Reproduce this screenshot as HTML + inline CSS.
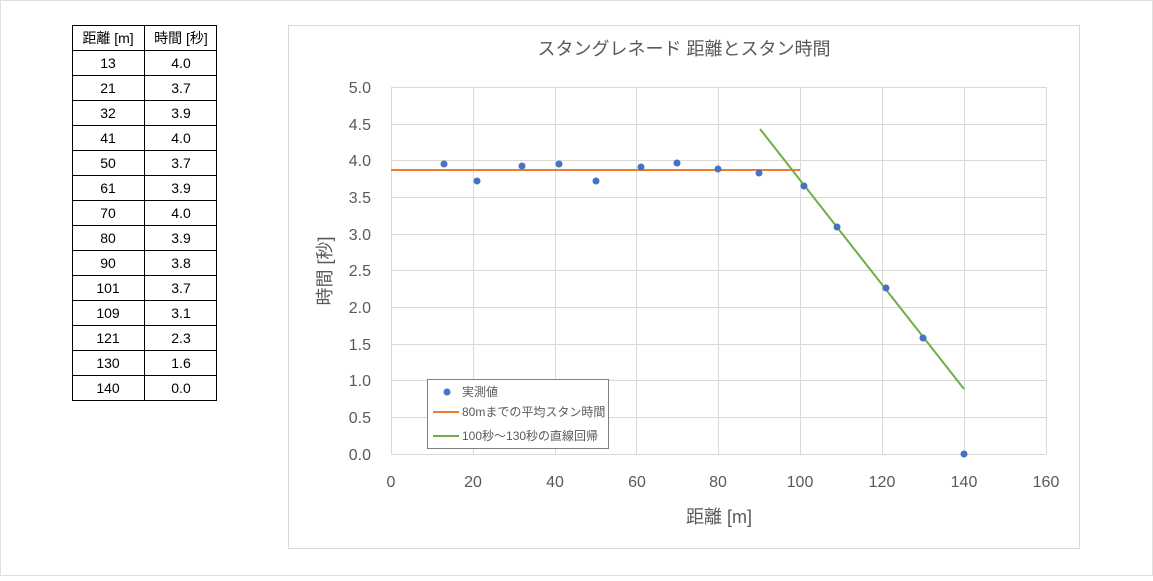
<!DOCTYPE html>
<html><head><meta charset="utf-8"><style>
body{margin:0;background:#fff;width:1153px;height:576px;overflow:hidden;font-family:"Liberation Sans","Noto Sans CJK JP",sans-serif}
</style></head><body>
<svg width="1153" height="576" xmlns="http://www.w3.org/2000/svg" font-family="Liberation Sans, Noto Sans CJK JP, sans-serif">
<rect x="0.5" y="0.5" width="1152" height="575" fill="#fff" stroke="#e0e0e0"/>
<!-- table -->
<g stroke="#000" stroke-width="1" fill="none">
<rect x="72.5" y="25.5" width="144" height="375"/>
<line x1="144.5" y1="25" x2="144.5" y2="400"/>
<line x1="72" y1="50.5" x2="217" y2="50.5"/><line x1="72" y1="75.5" x2="217" y2="75.5"/><line x1="72" y1="100.5" x2="217" y2="100.5"/><line x1="72" y1="125.5" x2="217" y2="125.5"/><line x1="72" y1="150.5" x2="217" y2="150.5"/><line x1="72" y1="175.5" x2="217" y2="175.5"/><line x1="72" y1="200.5" x2="217" y2="200.5"/><line x1="72" y1="225.5" x2="217" y2="225.5"/><line x1="72" y1="250.5" x2="217" y2="250.5"/><line x1="72" y1="275.5" x2="217" y2="275.5"/><line x1="72" y1="300.5" x2="217" y2="300.5"/><line x1="72" y1="325.5" x2="217" y2="325.5"/><line x1="72" y1="350.5" x2="217" y2="350.5"/><line x1="72" y1="375.5" x2="217" y2="375.5"/>
</g>
<g font-size="14" fill="#000" text-anchor="middle">
<text x="108" y="43">距離 [m]</text><text x="181" y="43">時間 [秒]</text>
<text x="108" y="68">13</text><text x="181" y="68">4.0</text>
<text x="108" y="93">21</text><text x="181" y="93">3.7</text>
<text x="108" y="118">32</text><text x="181" y="118">3.9</text>
<text x="108" y="143">41</text><text x="181" y="143">4.0</text>
<text x="108" y="168">50</text><text x="181" y="168">3.7</text>
<text x="108" y="193">61</text><text x="181" y="193">3.9</text>
<text x="108" y="218">70</text><text x="181" y="218">4.0</text>
<text x="108" y="243">80</text><text x="181" y="243">3.9</text>
<text x="108" y="268">90</text><text x="181" y="268">3.8</text>
<text x="108" y="293">101</text><text x="181" y="293">3.7</text>
<text x="108" y="318">109</text><text x="181" y="318">3.1</text>
<text x="108" y="343">121</text><text x="181" y="343">2.3</text>
<text x="108" y="368">130</text><text x="181" y="368">1.6</text>
<text x="108" y="393">140</text><text x="181" y="393">0.0</text>
</g>
<!-- chart -->
<rect x="288.5" y="25.5" width="791" height="523" fill="#fff" stroke="#d9d9d9"/>
<text x="684" y="55" font-size="18" fill="#595959" text-anchor="middle">スタングレネード 距離とスタン時間</text>
<g stroke="#d9d9d9" stroke-width="1">
<line x1="391" y1="87.5" x2="1046" y2="87.5"/><line x1="391" y1="124.5" x2="1046" y2="124.5"/><line x1="391" y1="160.5" x2="1046" y2="160.5"/><line x1="391" y1="197.5" x2="1046" y2="197.5"/><line x1="391" y1="234.5" x2="1046" y2="234.5"/><line x1="391" y1="270.5" x2="1046" y2="270.5"/><line x1="391" y1="307.5" x2="1046" y2="307.5"/><line x1="391" y1="344.5" x2="1046" y2="344.5"/><line x1="391" y1="380.5" x2="1046" y2="380.5"/><line x1="391" y1="417.5" x2="1046" y2="417.5"/><line x1="391" y1="454.5" x2="1046" y2="454.5"/>
<line x1="391.5" y1="87" x2="391.5" y2="454"/><line x1="473.5" y1="87" x2="473.5" y2="454"/><line x1="555.5" y1="87" x2="555.5" y2="454"/><line x1="636.5" y1="87" x2="636.5" y2="454"/><line x1="718.5" y1="87" x2="718.5" y2="454"/><line x1="800.5" y1="87" x2="800.5" y2="454"/><line x1="882.5" y1="87" x2="882.5" y2="454"/><line x1="964.5" y1="87" x2="964.5" y2="454"/><line x1="1046.5" y1="87" x2="1046.5" y2="454"/>
</g>
<g font-size="16" fill="#595959" text-anchor="end">
<text x="371" y="93">5.0</text><text x="371" y="130">4.5</text><text x="371" y="166">4.0</text><text x="371" y="203">3.5</text><text x="371" y="240">3.0</text><text x="371" y="276">2.5</text><text x="371" y="313">2.0</text><text x="371" y="350">1.5</text><text x="371" y="386">1.0</text><text x="371" y="423">0.5</text><text x="371" y="460">0.0</text>
</g>
<g font-size="16" fill="#595959" text-anchor="middle">
<text x="391" y="487">0</text><text x="473" y="487">20</text><text x="555" y="487">40</text><text x="637" y="487">60</text><text x="718" y="487">80</text><text x="800" y="487">100</text><text x="882" y="487">120</text><text x="964" y="487">140</text><text x="1046" y="487">160</text>
<text x="719" y="523" font-size="18">距離 [m]</text>
</g>
<text transform="translate(331,271) rotate(-90)" font-size="18" fill="#595959" text-anchor="middle">時間 [秒]</text>
<line x1="391" y1="170" x2="800" y2="170" stroke="#ed7d31" stroke-width="2"/>
<line x1="760" y1="129" x2="964" y2="389" stroke="#70ad47" stroke-width="2"/>
<g fill="#4472c4">
<circle cx="444" cy="164" r="3.5"/><circle cx="477" cy="181" r="3.5"/><circle cx="522" cy="166" r="3.5"/><circle cx="559" cy="164" r="3.5"/><circle cx="596" cy="181" r="3.5"/><circle cx="641" cy="167" r="3.5"/><circle cx="677" cy="163" r="3.5"/><circle cx="718" cy="169" r="3.5"/><circle cx="759" cy="173" r="3.5"/><circle cx="804" cy="186" r="3.5"/><circle cx="837" cy="227" r="3.5"/><circle cx="886" cy="288" r="3.5"/><circle cx="923" cy="338" r="3.5"/><circle cx="964" cy="454" r="3.5"/>
</g>
<rect x="427.5" y="379.5" width="181" height="69" fill="#fff" stroke="#7f7f7f"/>
<circle cx="447" cy="392" r="3.5" fill="#4472c4"/>
<line x1="433" y1="412" x2="459" y2="412" stroke="#ed7d31" stroke-width="2"/>
<line x1="433" y1="436" x2="459" y2="436" stroke="#70ad47" stroke-width="2"/>
<g font-size="12" fill="#595959">
<text x="462" y="396">実測値</text><text x="462" y="416">80mまでの平均スタン時間</text><text x="462" y="440">100秒～130秒の直線回帰</text>
</g>
</svg>
</body></html>
